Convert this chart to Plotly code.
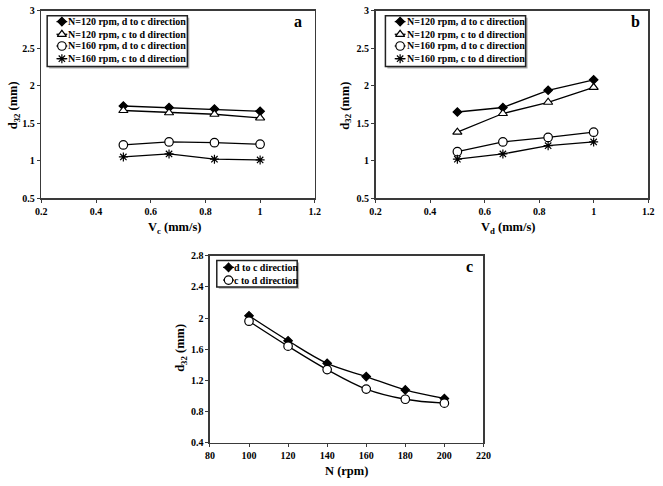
import plotly.graph_objects as go

# ---------------- data ----------------
vc = [0.5, 0.667, 0.833, 1.0]
a_n120_dc = [1.73, 1.71, 1.69, 1.66]
a_n120_cd = [1.67, 1.64, 1.62, 1.57]
a_n160_dc = [1.21, 1.25, 1.24, 1.22]
a_n160_cd = [1.05, 1.09, 1.02, 1.01]

vd = [0.5, 0.667, 0.833, 1.0]
b_n120_dc = [1.65, 1.71, 1.94, 2.08]
b_n120_cd = [1.38, 1.63, 1.78, 1.98]
b_n160_dc = [1.12, 1.25, 1.31, 1.38]
b_n160_cd = [1.02, 1.09, 1.20, 1.25]

n_rpm = [100, 120, 140, 160, 180, 200]
c_dc = [2.03, 1.71, 1.42, 1.25, 1.08, 0.97]
c_cd = [1.96, 1.64, 1.34, 1.09, 0.96, 0.91]

names4 = ["N=120 rpm, d to c direction", "N=120 rpm, c to d direction",
          "N=160 rpm, d to c direction", "N=160 rpm, c to d direction"]
names2 = ["d to c direction", "c to d direction"]

# ---------------- style ----------------
W, H = 663, 486
FONT = "Liberation Serif, Times New Roman, serif"
symbols4 = ["diamond", "triangle-up", "circle", "asterisk-open"]
symbols2 = ["diamond", "circle"]
MSIZE = {"diamond": 6.5, "triangle-up": 8, "circle": 8.5, "asterisk-open": 7.5}
MFILL = {"diamond": "black", "triangle-up": "white", "circle": "white", "asterisk-open": "black"}
AXC = "#3a3a3a"


def px_x(p):
    return p / W


def px_y(p):
    return 1 - p / H


fig = go.Figure()


def marker(sym):
    return dict(symbol=sym, size=MSIZE[sym], color=MFILL[sym],
                line=dict(color="black", width=1.2))


def add_series(xs, ys, name, sym, xa, ya, shape="linear"):
    fig.add_trace(go.Scatter(
        x=xs, y=ys, name=name, mode="lines+markers", showlegend=False,
        line=dict(color="black", width=1.3, shape=shape),
        marker=marker(sym), xaxis=xa, yaxis=ya,
    ))


for ys, nm, sym in zip([a_n120_dc, a_n120_cd, a_n160_dc, a_n160_cd], names4, symbols4):
    add_series(vc, ys, nm, sym, "x", "y")
for ys, nm, sym in zip([b_n120_dc, b_n120_cd, b_n160_dc, b_n160_cd], names4, symbols4):
    add_series(vd, ys, nm, sym, "x2", "y2")
for ys, nm, sym in zip([c_dc, c_cd], names2, symbols2):
    add_series(n_rpm, ys, nm, sym, "x3", "y3", shape="spline")

tickfont = dict(family=FONT, size=10, color="black", weight="bold")
titlefont = dict(family=FONT, size=12.5, color="black", weight="bold")


def axis_common(dom, rng, dt, anchor):
    return dict(domain=dom, range=rng, dtick=dt, tick0=rng[0], anchor=anchor,
                showgrid=False, zeroline=False, showline=True, linecolor=AXC,
                linewidth=1.5, mirror=True, ticks="outside", ticklen=3,
                tickwidth=1, tickcolor=AXC, tickfont=tickfont, fixedrange=True)


ya_dom = [px_y(197), px_y(5)]
yc_dom = [px_y(448), px_y(256)]

shapes = []
annotations = []

# ---- hand-drawn legends (box, sample, label) ----
legends = [
    (42, 185, 10, 62, 57, 62.5, [16, 29, 41, 54], names4, symbols4),
    (387, 530, 10, 62, 402, 407.5, [16, 29, 41, 54], names4, symbols4),
    (215, 297, 261, 288, 227, 232, [268, 281], names2, symbols2),
]
for (bx0, bx1, by0, by1, cx, tx, rows, nms, syms) in legends:
    shapes.append(dict(type="rect", xref="paper", yref="paper", layer="below",
                       x0=px_x(bx0 + 2), x1=px_x(bx1 + 2), y0=px_y(by1 + 2), y1=px_y(by0 + 2),
                       line=dict(width=0), fillcolor="#b0b0b0"))
    shapes.append(dict(type="rect", xref="paper", yref="paper", layer="below",
                       x0=px_x(bx0), x1=px_x(bx1), y0=px_y(by1), y1=px_y(by0),
                       line=dict(color="#222222", width=1.5), fillcolor="white"))
    for ry, nm, sym in zip(rows, nms, syms):
        fig.add_trace(go.Scatter(
            x=[cx - 5.5, cx + 5.5], y=[ry, ry], mode="lines", showlegend=False,
            line=dict(color="black", width=1.3), xaxis="x4", yaxis="y4", hoverinfo="skip"))
        fig.add_trace(go.Scatter(
            x=[cx], y=[ry], mode="markers", showlegend=False, marker=marker(sym),
            xaxis="x4", yaxis="y4", hoverinfo="skip"))
        annotations.append(dict(text=nm, x=px_x(tx), y=px_y(ry), xref="paper", yref="paper",
                                xanchor="left", yanchor="middle", showarrow=False,
                                borderpad=0, font=dict(family=FONT, size=10, color="black",
                                                       weight="bold")))

# ---- axis titles ----
axis_titles = [
    ("d<sub>32</sub> (mm)", 9, 102, -90),
    ("V<sub>c</sub> (mm/s)", 172, 228, 0),
    ("d<sub>32</sub> (mm)", 347, 102, -90),
    ("V<sub>d</sub> (mm/s)", 513, 228, 0),
    ("d<sub>32</sub> (mm)", 179, 350, -90),
    ("N (rpm)", 347, 477, 0),
]
for txt, x, y, ang in axis_titles:
    annotations.append(dict(text=txt, x=px_x(x), y=px_y(y), xref="paper", yref="paper",
                            xanchor="center", yanchor="middle", showarrow=False,
                            textangle=ang, font=titlefont))

# ---- panel letters ----
for letter, x, y in [("a", 298, 16), ("b", 642, 16), ("c", 473, 267)]:
    annotations.append(dict(text=letter, x=px_x(x), y=px_y(y), xref="paper", yref="paper",
                            xanchor="center", yanchor="middle", showarrow=False,
                            font=dict(family=FONT, size=16, color="black", weight="bold")))

fig.update_layout(
    width=W, height=H,
    margin=dict(l=0, r=0, t=0, b=0),
    paper_bgcolor="white", plot_bgcolor="rgba(0,0,0,0)",
    showlegend=False,
    xaxis=axis_common([px_x(36), px_x(315)], [0.2, 1.2], 0.2, "y"),
    yaxis=axis_common(ya_dom, [0.5, 3.0], 0.5, "x"),
    xaxis2=axis_common([px_x(377), px_x(655)], [0.2, 1.2], 0.2, "y2"),
    yaxis2=axis_common(ya_dom, [0.5, 3.0], 0.5, "x2"),
    xaxis3=axis_common([px_x(208), px_x(487)], [80, 220], 20, "y3"),
    yaxis3=axis_common(yc_dom, [0.4, 2.8], 0.4, "x3"),
    xaxis4=dict(domain=[0, 1], range=[0, W], visible=False, anchor="y4", fixedrange=True),
    yaxis4=dict(domain=[0, 1], range=[H, 0], visible=False, anchor="x4", fixedrange=True),
    shapes=shapes,
    annotations=annotations,
)

fig.write_html(
    "out.html",
    config={"displayModeBar": False, "staticPlot": True},
    post_script="document.body.style.margin='0';document.body.style.overflow='hidden';",
)
